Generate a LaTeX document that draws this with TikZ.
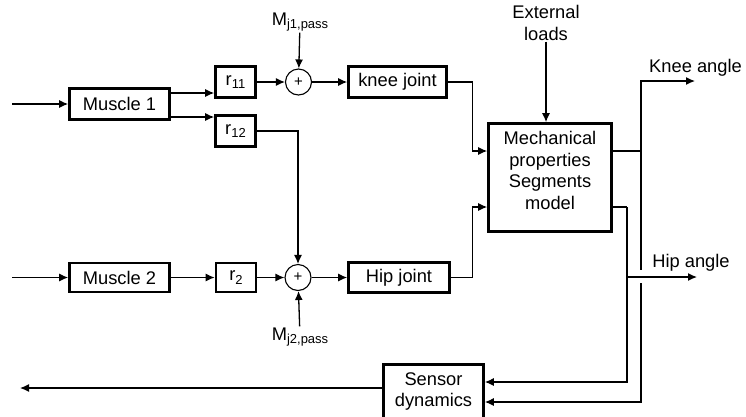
\documentclass[tikz,border=0pt]{standalone}
\usepackage{fontspec}
\setmainfont{Liberation Sans}
\usetikzlibrary{arrows.meta,positioning,calc}
\newcommand{\sbs}[1]{\raisebox{-3.5pt}{\fontsize{13}{13}\selectfont #1}}

\begin{document}
\begin{tikzpicture}[x=1pt, y=-1pt,
  font=\fontsize{18.3}{21.5}\selectfont,
  box/.style={draw, line width=2.6pt, align=center, inner sep=2pt, minimum height=31pt},
  gain/.style={box, minimum width=40pt},
  sumnode/.style={draw, circle, line width=1.1pt, minimum size=26pt, inner sep=0pt,
                  font=\fontsize{15}{15}\selectfont},
  lbl/.style={align=center, inner sep=1pt},
  arr/.style={-{Latex[length=9pt,width=8pt]}, line width=1.3pt},
  ln/.style={line width=1.3pt}]
\useasboundingbox (0,0) rectangle (746,416);
% upper row
\node[box, minimum width=100pt] (m1) at (119.5,104) {Muscle 1};
\node[gain] (r11) at (235.5,82) {r\sbs{11}};
\node[gain] (r12) at (235.5,131) {r\sbs{12}};
\node[sumnode] (s1) at (298.5,82) {+};
\node[box, minimum width=98pt] (knee) at (397.5,82) {knee joint};
\node[lbl] (mj1) at (300,22) {M\sbs{j1,pass}};
% lower row
\node[box, minimum width=100pt, minimum height=29pt] (m2) at (119.5,277.5) {Muscle 2};
\node[gain, minimum height=29pt] (r2) at (236,277.5) {r\sbs{2}};
\node[sumnode] (s2) at (298,277.5) {+};
\node[box, minimum width=101pt, minimum height=30pt] (hip) at (399,277.5) {Hip joint};
\node[lbl] (mj2) at (300,337) {M\sbs{j2,pass}};
% plant and sensor
\node[lbl] (ext) at (546,23) {External\\loads};
\node[box, minimum width=123pt, minimum height=108pt, text depth=14pt] (mech) at (550,177.5)
  {Mechanical\\properties\\Segments\\model};
\node[box, minimum width=100pt, minimum height=54pt] (sens) at (433.5,391.5) {Sensor\\dynamics};
\node[lbl] (kl) at (695.5,68) {Knee angle};
\node[lbl] (hl) at (691,263) {Hip angle};
\coordinate (in1) at (12,104);
\coordinate (in2) at (12,277.5);
\coordinate (kb) at (641,151);
\coordinate (hb) at (627,207);
\coordinate (kout) at (695,81);
\coordinate (hout) at (697,277);
\coordinate (fb) at (20,388);
% signals
\draw[arr] (in1) -- (m1);
\draw[arr] ([yshift=11pt]m1.east) -- ([yshift=11pt]m1.east -| r11.west);
\draw[arr] ([yshift=-13pt]m1.east) -- ([yshift=-13pt]m1.east -| r12.west);
\draw[arr] (r11) -- (s1);
\draw[arr] (s1) -- (knee);
\draw[arr] (mj1) -- (s1);
\draw[arr] (r12.east) -| (s2.north);
\draw[arr] (in2) -- (m2);
\draw[arr] (m2) -- (r2);
\draw[arr] (r2) -- (s2);
\draw[arr] (s2) -- (hip);
\draw[arr] (mj2) -- (s2);
\draw[arr] (knee.east) -- ++(25,0) |- (mech.west |- kb);
\draw[arr] (hip.east) -- ++(22,0) |- (mech.west |- hb);
\draw[arr] (ext) -- (ext |- mech.north);
% outputs and feedback
\draw[ln] (mech.east |- kb) -- (kb);
\draw[arr] (kb) |- (kout);
\draw[ln] (kb) -- ([yshift=7pt]kb |- hout);
\draw[arr] ([yshift=-6pt]kb |- hout) |- ([yshift=-10.5pt]sens.east);
\draw[ln] (mech.east |- hb) -- (hb);
\draw[arr] (hb) |- ([yshift=9.5pt]sens.east);
\draw[arr] (hb |- hout) -- (hout);
\draw[arr] (sens.west |- fb) -- (fb);
\end{tikzpicture}
\end{document}
